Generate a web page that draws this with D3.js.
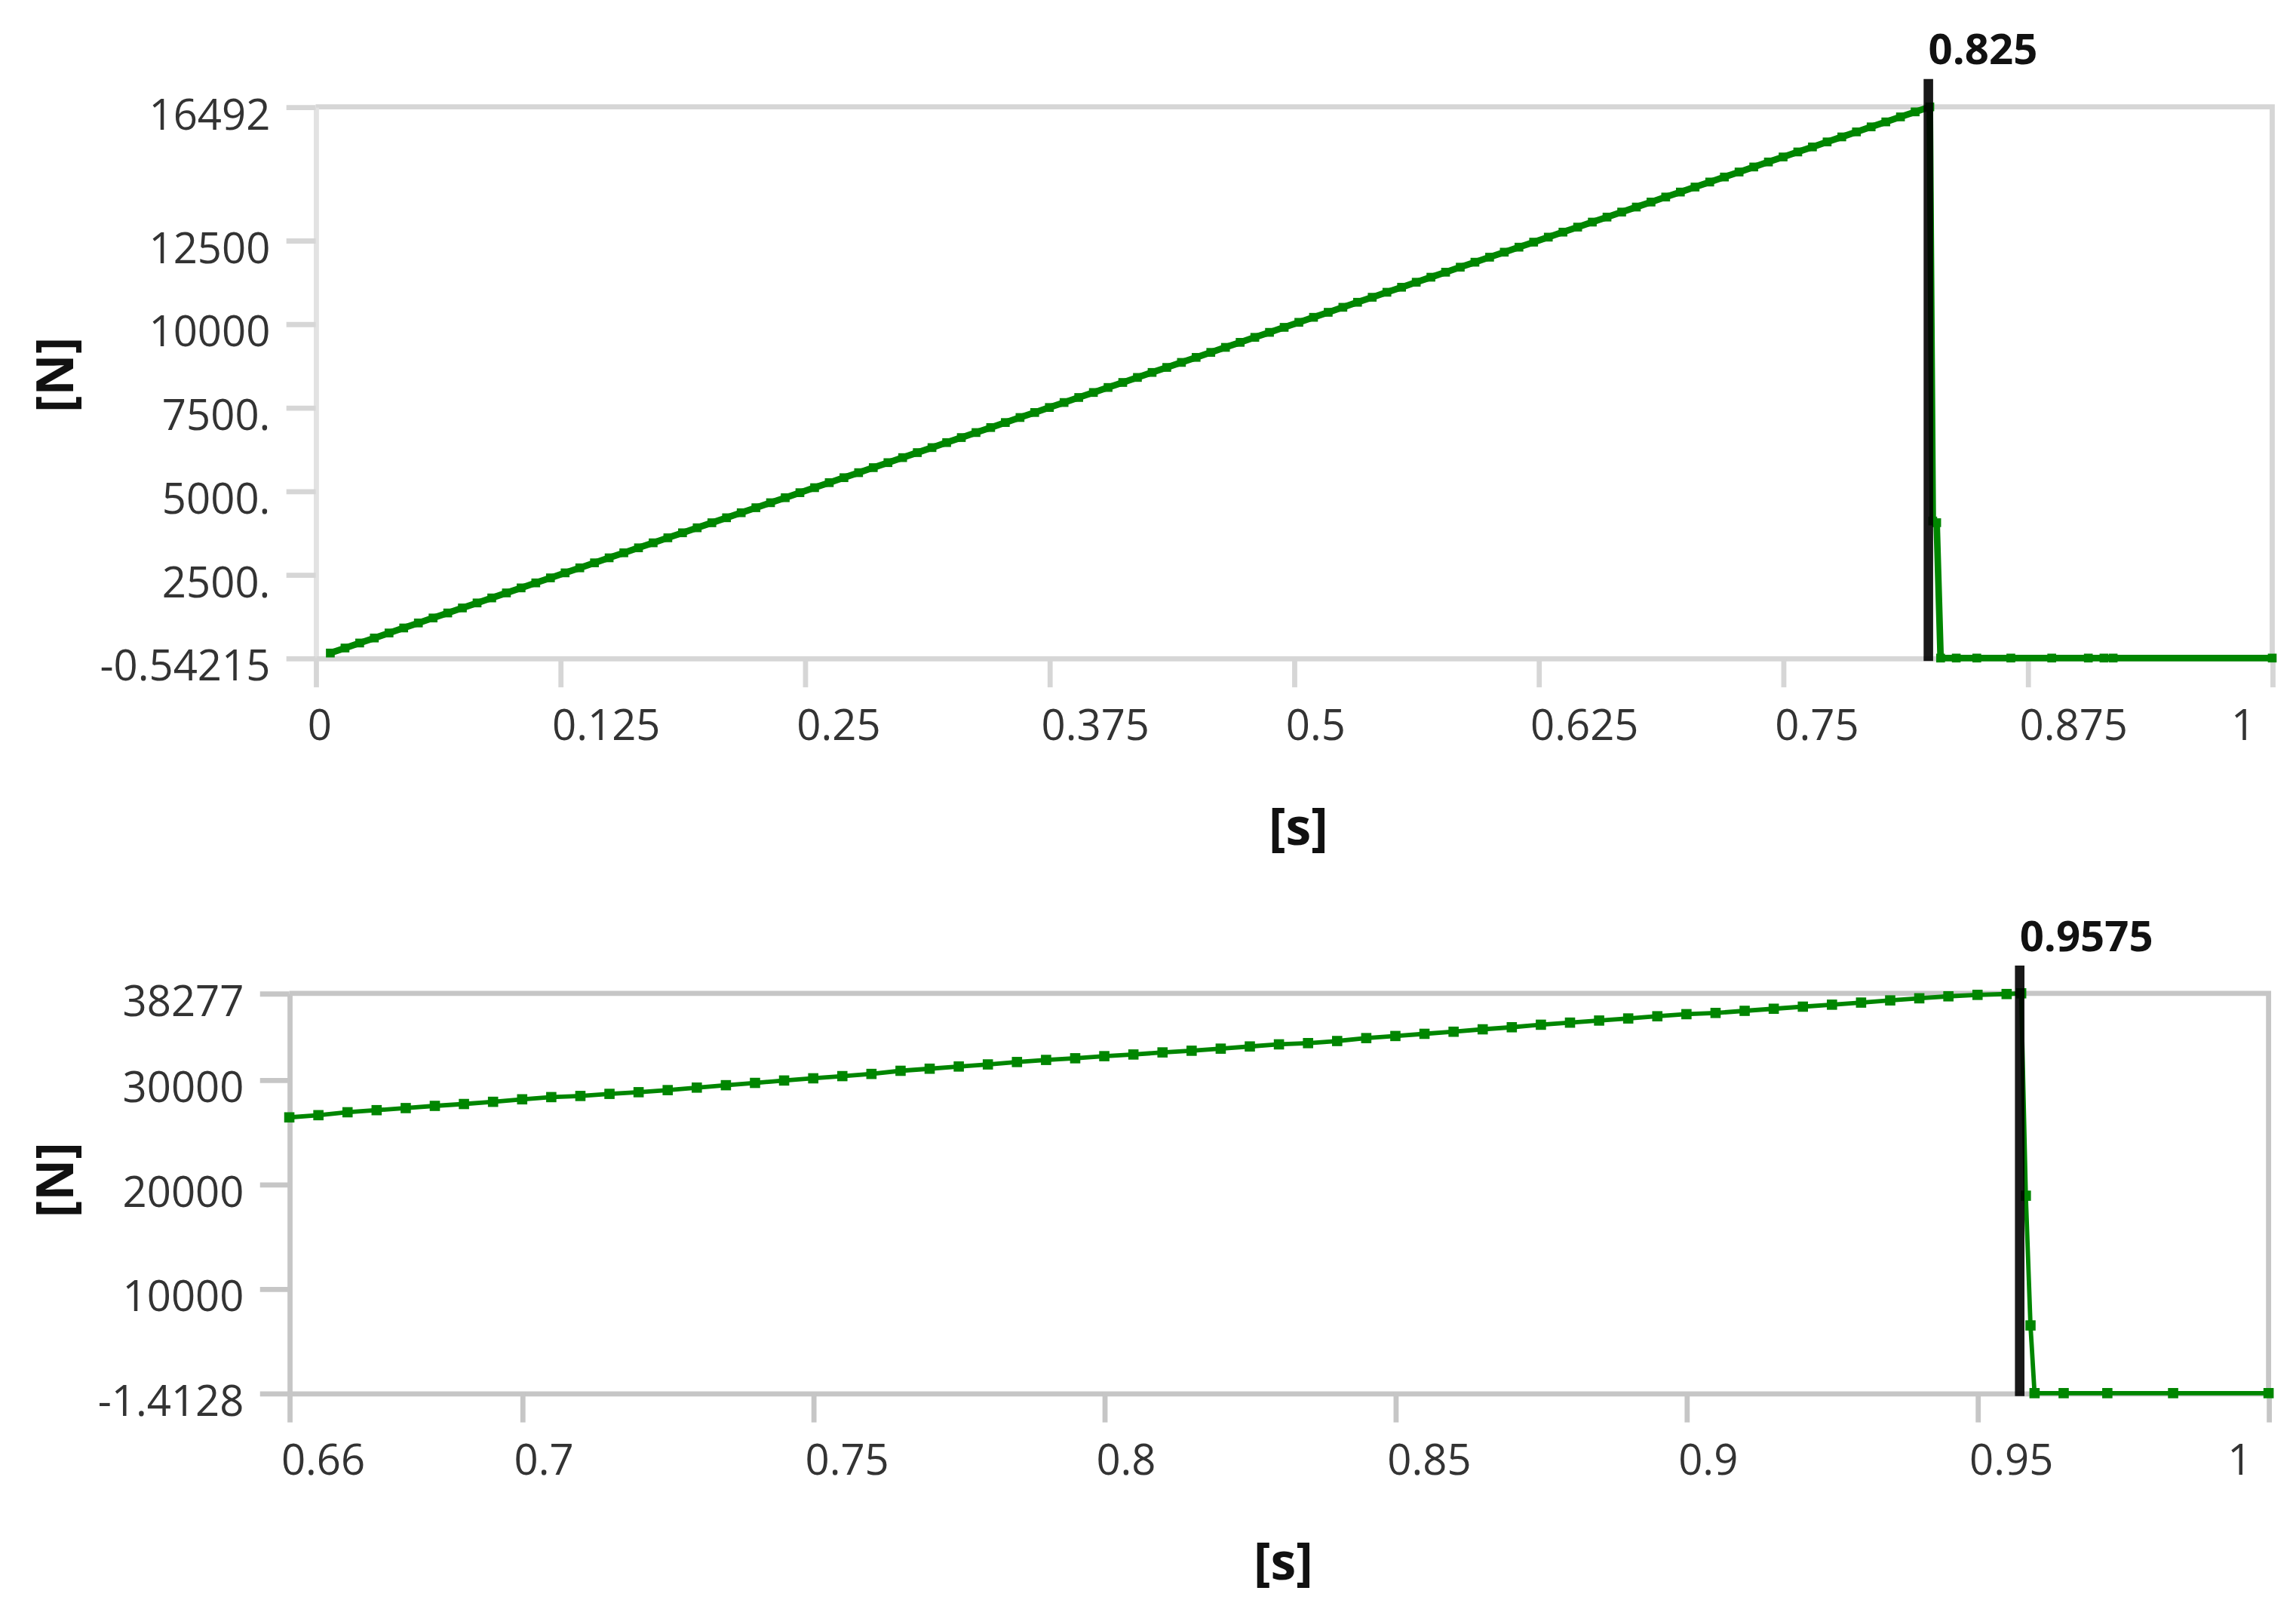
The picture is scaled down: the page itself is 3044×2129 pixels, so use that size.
<!DOCTYPE html>
<meta charset="utf-8">
<style>
body { margin: 0; background: #fff; }
svg { display: block; }
.tick text { font-family: "Open Sans", "Noto Sans", sans-serif; font-size: 29px; fill: #333; }
.axis-title { font-family: "Open Sans", sans-serif; font-weight: 700; font-size: 35px; fill: #111; }
.probe-label { font-family: "Open Sans", sans-serif; font-weight: 700; font-size: 29px; fill: #111; }
</style>
<body>
<script src="https://d3js.org/d3.v7.min.js"></script>
<script>

// ---- top chart data: force [N] vs time [s] ----
var topTime = [
  0.0075,0.015,0.0225,0.03,0.0375,0.045,0.0525,0.06,0.0675,0.075,
  0.0825,0.09,0.0975,0.105,0.1125,0.12,0.1275,0.135,0.1425,0.15,
  0.1575,0.165,0.1725,0.18,0.1875,0.195,0.2025,0.21,0.2175,0.225,
  0.2325,0.24,0.2475,0.255,0.2625,0.27,0.2775,0.285,0.2925,0.3,
  0.3075,0.315,0.3225,0.33,0.3375,0.345,0.3525,0.36,0.3675,0.375,
  0.3825,0.39,0.3975,0.405,0.4125,0.42,0.4275,0.435,0.4425,0.45,
  0.4575,0.465,0.4725,0.48,0.4875,0.495,0.5025,0.51,0.5175,0.525,
  0.5325,0.54,0.5475,0.555,0.5625,0.57,0.5775,0.585,0.5925,0.6,
  0.6075,0.615,0.6225,0.63,0.6375,0.645,0.6525,0.66,0.6675,0.675,
  0.6825,0.69,0.6975,0.705,0.7125,0.72,0.7275,0.735,0.7425,0.75,
  0.7575,0.765,0.7725,0.78,0.7875,0.795,0.8025,0.81,0.8175,0.825,
  0.8265,0.8285,0.8305,0.8385,0.849,0.8664,0.8873,0.906,0.914,0.9187,1.0
];
var topForce = [
  150,300,450,600,750,900,1050,1199,1349,1499,
  1649,1799,1949,2099,2249,2399,2549,2699,2849,2999,
  3149,3298,3448,3598,3748,3898,4048,4198,4348,4498,
  4648,4798,4948,5098,5248,5397,5547,5697,5847,5997,
  6147,6297,6447,6597,6747,6897,7047,7197,7347,7497,
  7646,7796,7946,8096,8246,8396,8546,8696,8846,8996,
  9146,9296,9446,9596,9745,9895,10045,10195,10345,10495,
  10645,10795,10945,11095,11245,11395,11545,11695,11844,11994,
  12144,12294,12444,12594,12744,12894,13044,13194,13344,13494,
  13644,13794,13943,14093,14243,14393,14543,14693,14843,14993,
  15143,15293,15443,15593,15743,15893,16042,16192,16342,16492,
  4100,4050,-0.54215,0,0,0,0,0,0,0,0
];
var topXTicks = [0, 0.125, 0.25, 0.375, 0.5, 0.625, 0.75, 0.875, 1];
var topXLabels = ["0", "0.125", "0.25", "0.375", "0.5", "0.625", "0.75", "0.875", "1"];
var topYTicks = [-0.54215, 2500, 5000, 7500, 10000, 12500, 16492];
var topYLabels = ["-0.54215", "2500.", "5000.", "7500.", "10000", "12500", "16492"];
var topProbe = 0.825;

// ---- bottom chart data ----
var botTime = [
  0.66,0.665,0.67,0.675,0.68,0.685,0.69,0.695,0.7,0.705,
  0.71,0.715,0.72,0.725,0.73,0.735,0.74,0.745,0.75,0.755,
  0.76,0.765,0.77,0.775,0.78,0.785,0.79,0.795,0.8,0.805,
  0.81,0.815,0.82,0.825,0.83,0.835,0.84,0.845,0.85,0.855,
  0.86,0.865,0.87,0.875,0.88,0.885,0.89,0.895,0.9,0.905,
  0.91,0.915,0.92,0.925,0.93,0.935,0.94,0.945,0.95,0.955,
  0.9575,0.9583,0.9591,0.9598,0.9648,0.9723,0.9836,1.0
];
var botForce = [
  26400,26610,26890,27090,27290,27500,27680,27890,28130,28340,
  28450,28650,28810,29010,29250,29480,29700,29930,30140,30350,
  30560,30860,31060,31270,31470,31700,31900,32060,32260,32420,
  32620,32780,32980,33190,33390,33510,33710,33990,34190,34400,
  34600,34830,35030,35270,35470,35670,35870,36080,36280,36400,
  36600,36800,37000,37190,37390,37600,37800,37990,38130,38210,
  38277,18900,6480,-1.4128,-1.4128,-1.4128,-1.4128,-1.4128
];
var botXTicks = [0.66, 0.7, 0.75, 0.8, 0.85, 0.9, 0.95, 1];
var botXLabels = ["0.66", "0.7", "0.75", "0.8", "0.85", "0.9", "0.95", "1"];
var botYTicks = [-1.4128, 10000, 20000, 30000, 38277];
var botYLabels = ["-1.4128", "10000", "20000", "30000", "38277"];
var botProbe = 0.9575;

var green = "#008600";

// drawing space is the shrunk picture (1568 x 1097), scaled up to the window
var svg = d3.select("body").append("svg")
    .attr("width", 3044)
    .attr("height", 2129)
    .attr("viewBox", "0 0 1568 1097");

function drawChart(cfg) {
  var x = d3.scaleLinear().domain(cfg.xDomain).range([cfg.left, cfg.right]);
  var y = d3.scaleLinear().domain(cfg.yDomain).range([cfg.bottom, cfg.top]);

  // frame: top and right border
  svg.append("path")
     .attr("d", "M" + cfg.left + "," + cfg.top + "H" + cfg.right + "V" + cfg.bottom)
     .attr("fill", "none")
     .attr("stroke", cfg.frame)
     .attr("stroke-width", 3.5);

  // y axis
  var gy = svg.append("g")
     .attr("transform", "translate(" + cfg.left + ",0)")
     .call(d3.axisLeft(y)
        .tickValues(cfg.yTicks)
        .tickFormat(function(d, i) { return cfg.yLabels[i]; })
        .tickSize(20).tickSizeOuter(0).tickPadding(11));
  gy.selectAll("text").attr("dy", 15);

  // x axis
  var gx = svg.append("g")
     .attr("transform", "translate(0," + cfg.bottom + ")")
     .call(d3.axisBottom(x)
        .tickValues(cfg.xTicks)
        .tickFormat(function(d, i) { return cfg.xLabels[i]; })
        .tickSize(20).tickSizeOuter(0));
  var n = cfg.xTicks.length;
  gx.selectAll("text")
     .attr("y", 56).attr("dy", 0)
     .attr("x", function(d, i) { return i == n - 1 ? -12 : -6; })
     .attr("text-anchor", function(d, i) { return i == n - 1 ? "end" : "start"; });

  [gx, gy].forEach(function(g) {
    g.attr("font-size", null).attr("font-family", null);
    g.selectAll("line, path").attr("stroke", cfg.frame).attr("stroke-width", 3.5);
  });
  gy.select(".domain").attr("stroke", cfg.axisColor);

  // axis titles
  svg.append("text")
     .attr("class", "axis-title")
     .attr("x", (cfg.left + cfg.right) / 2 + 3)
     .attr("y", cfg.xTitleY)
     .attr("text-anchor", "middle")
     .text("[s]");
  svg.append("text")
     .attr("class", "axis-title")
     .attr("transform", "translate(50," + cfg.yTitleY + ") rotate(-90)")
     .attr("text-anchor", "middle")
     .text("[N]");

  // series
  var pts = cfg.time.map(function(t, i) { return [t, cfg.force[i]]; });
  var line = d3.line()
     .x(function(d) { return x(d[0]); })
     .y(function(d) { return y(d[1]); });
  svg.append("path")
     .datum(pts)
     .attr("d", line)
     .attr("fill", "none")
     .attr("stroke", green)
     .attr("stroke-width", cfg.lineWidth)
     .attr("stroke-linejoin", "round");
  var m = cfg.marker;
  svg.append("g").selectAll("rect")
     .data(pts)
     .enter().append("rect")
        .attr("x", function(d) { return x(d[0]) - m / 2; })
        .attr("y", function(d) { return y(d[1]) - m / 2; })
        .attr("width", m)
        .attr("height", m)
        .attr("fill", green);

  // probe cursor
  svg.append("line")
     .attr("x1", x(cfg.probe) - 1).attr("x2", x(cfg.probe) - 1)
     .attr("y1", cfg.top - 19).attr("y2", cfg.bottom + 2)
     .attr("stroke", "#000")
     .attr("stroke-opacity", 0.9)
     .attr("stroke-width", 6.5);
  svg.append("text")
     .attr("class", "probe-label")
     .attr("x", x(cfg.probe) - 1)
     .attr("y", cfg.top - 29)
     .text(String(cfg.probe));
}

drawChart({
  left: 215.4, right: 1552, top: 73, bottom: 449.5,
  xDomain: [0, 1], yDomain: [-0.54215, 16492],
  xTicks: topXTicks, xLabels: topXLabels,
  yTicks: topYTicks, yLabels: topYLabels,
  time: topTime, force: topForce, probe: topProbe,
  frame: "#d6d6d6", axisColor: "#e2e2e2", lineWidth: 4.5, marker: 6,
  xTitleY: 577, yTitleY: 256
});

drawChart({
  left: 197.4, right: 1549.5, top: 678.5, bottom: 951.6,
  xDomain: [0.66, 1], yDomain: [-1.4128, 38277],
  xTicks: botXTicks, xLabels: botXLabels,
  yTicks: botYTicks, yLabels: botYLabels,
  time: botTime, force: botForce, probe: botProbe,
  frame: "#c6c6c6", axisColor: "#c6c6c6", lineWidth: 3, marker: 7,
  xTitleY: 1079, yTitleY: 806
});

</script>
</body>
